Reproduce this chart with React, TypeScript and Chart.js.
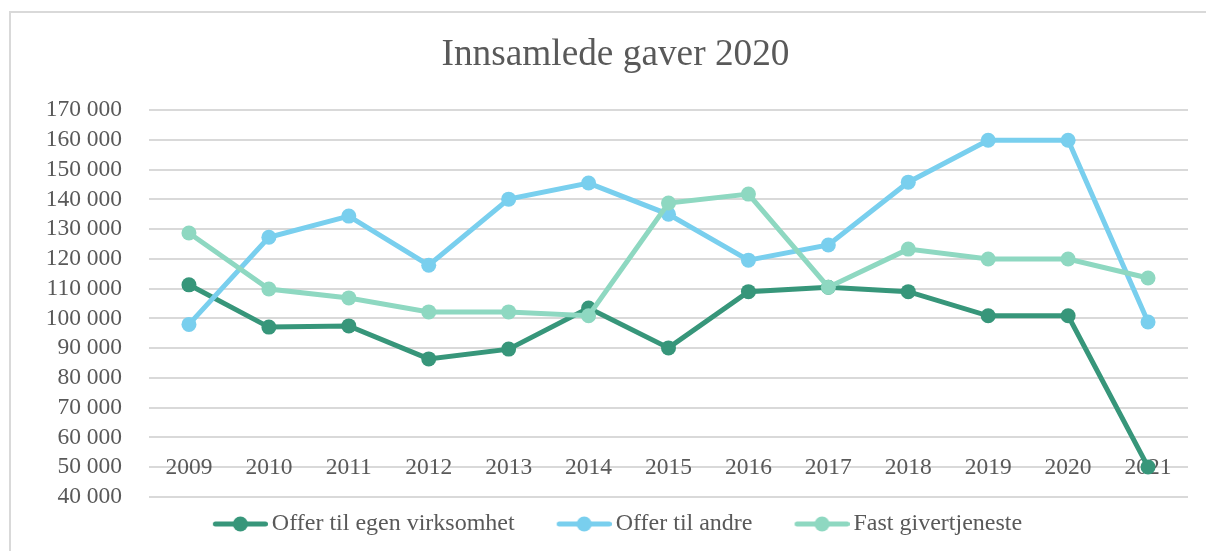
import React, { useEffect, useRef } from "react";
import { Chart, registerables } from "chart.js";

Chart.register(...registerables);

const chartTitle = "Innsamlede gaver 2020";
const years = ["2009", "2010", "2011", "2012", "2013", "2014", "2015", "2016", "2017", "2018", "2019", "2020", "2021"];
const offerEgen = [111300, 97100, 97500, 86400, 89700, 103500, 90100, 109000, 110500, 109000, 100900, 100900, 50100];
const offerAndre = [98000, 127300, 134400, 117900, 140100, 145500, 135000, 119600, 124700, 145800, 159900, 159900, 98800];
const fastGiver = [128700, 109900, 106900, 102200, 102200, 100900, 138800, 141800, 110500, 123300, 120000, 120000, 113600];
const seriesNames = ["Offer til egen virksomhet", "Offer til andre", "Fast givertjeneste"];
const seriesColors = ["#37967A", "#79CFEE", "#8ED8C1"];
const yMin = 40000;
const yMax = 170000;
const yStep = 10000;
const xAxisCrossing = 50000;

const FONT = '"Liberation Serif", "Times New Roman", serif';
const TEXT = "#595959";

function makeLegendImage(color: string): HTMLCanvasElement {
  const c = document.createElement("canvas");
  c.width = 90;
  c.height = 16;
  const ctx = c.getContext("2d")!;
  ctx.strokeStyle = color;
  ctx.lineWidth = 5;
  ctx.lineCap = "round";
  ctx.beginPath();
  ctx.moveTo(37.5, 8);
  ctx.lineTo(87.5, 8);
  ctx.stroke();
  ctx.fillStyle = color;
  ctx.beginPath();
  ctx.arc(62.5, 8, 7.5, 0, Math.PI * 2);
  ctx.fill();
  return c;
}

const framePlugin = {
  id: "frame",
  afterLayout(chart: any) {
    // the reference frame extends past the right edge, so title and legend are centred on it
    if (chart.titleBlock) {
      chart.titleBlock.left += 21.5;
      chart.titleBlock.right += 21.5;
    }
    if (chart.legend) {
      chart.legend.left += 20;
    }
  },
  beforeDraw(chart: any) {
    const ctx = chart.ctx;
    ctx.save();
    ctx.strokeStyle = "#d9d9d9";
    ctx.lineWidth = 2;
    ctx.beginPath();
    ctx.moveTo(10, chart.height);
    ctx.lineTo(10, 12);
    ctx.lineTo(chart.width, 12);
    ctx.stroke();
    ctx.restore();
  },
};

function formatThousands(v: number): string {
  return String(Math.round(v)).replace(/\B(?=(\d{3})+(?!\d))/g, " ");
}

export default function App() {
  const canvasRef = useRef<HTMLCanvasElement | null>(null);

  useEffect(() => {
    if (!canvasRef.current) return;
    const images = seriesColors.map((c) => makeLegendImage(c));
    const seriesData = [offerEgen, offerAndre, fastGiver];
    const chart = new Chart(canvasRef.current, {
      type: "line",
      data: {
        labels: years,
        datasets: seriesData.map((d, i) => ({
          label: seriesNames[i],
          data: d,
          borderColor: seriesColors[i],
          backgroundColor: seriesColors[i],
          pointBackgroundColor: seriesColors[i],
          pointBorderColor: seriesColors[i],
          pointBorderWidth: 0,
          pointRadius: 7.5,
          borderWidth: 5,
          tension: 0,
          fill: false,
          order: 2 - i,
        })),
      },
      options: {
        responsive: false,
        animation: false,
        layout: { padding: { left: 0, right: 18, top: 0, bottom: 5 } },
        plugins: {
          tooltip: { enabled: false },
          title: {
            display: true,
            text: chartTitle,
            color: TEXT,
            font: { family: FONT, size: 37.3, weight: "normal" },
            padding: { top: 33, bottom: 32.4 },
          },
          legend: {
            display: true,
            position: "bottom",
            labels: {
              usePointStyle: true,
              pointStyleWidth: 74,
              padding: 15,
              color: TEXT,
              font: { family: FONT, size: 24 },
              sort: (a: any, b: any) => a.datasetIndex - b.datasetIndex,
              generateLabels: (ch: any) => {
                const items = (Chart.defaults.plugins.legend.labels as any).generateLabels(ch);
                items.forEach((it: any) => {
                  it.pointStyle = images[it.datasetIndex];
                });
                return items;
              },
            },
          },
        },
        scales: {
          x: {
            type: "category",
            offset: true,
            position: { y: xAxisCrossing } as any,
            grid: { display: false, drawTicks: false },
            border: { display: false },
            ticks: {
              color: TEXT,
              font: { family: FONT, size: 23.5 },
              padding: -14,
              maxRotation: 0,
              autoSkip: false,
            },
          },
          y: {
            type: "linear",
            min: yMin,
            max: yMax,
            grid: { color: "#d9d9d9", lineWidth: 2, drawTicks: false },
            border: { display: false },
            afterFit: (scale: any) => {
              scale.width = 149;
            },
            ticks: {
              stepSize: yStep,
              maxTicksLimit: 20,
              autoSkip: false,
              color: TEXT,
              font: { family: FONT, size: 23.5 },
              padding: 27,
              callback: (v: any) => formatThousands(Number(v)),
            },
          },
        },
      },
      plugins: [framePlugin],
    });
    return () => chart.destroy();
  }, []);

  return (
    <div style={{ position: "fixed", left: 0, top: 0, width: 1206, height: 551, background: "#fff" }}>
      <canvas ref={canvasRef} width={1206} height={551} style={{ display: "block" }} />
    </div>
  );
}
